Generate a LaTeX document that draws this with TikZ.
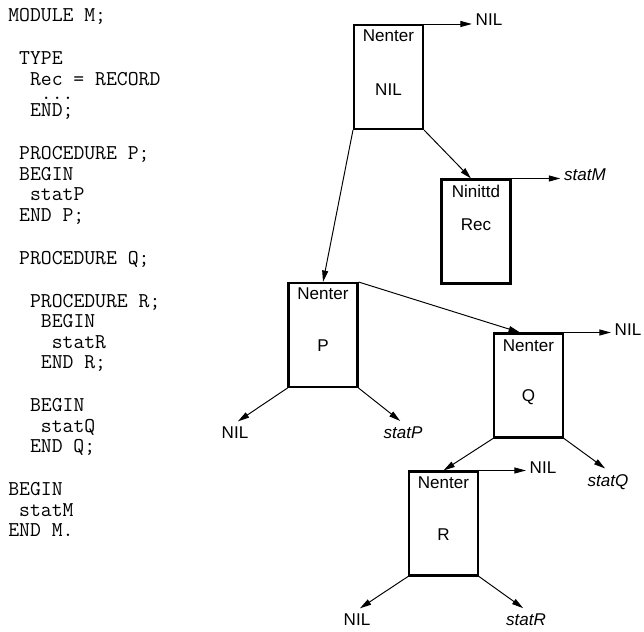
\documentclass[tikz,border=0pt]{standalone}
\usepackage{fontspec}
\newfontfamily\diagfont{Liberation Sans}
\usetikzlibrary{arrows.meta}

\begin{document}
\begin{tikzpicture}[
  scopebox/.style={draw, line width=1.15pt, minimum width=1.38cm, minimum height=2.08cm, inner sep=0pt},
  tag/.style={font=\diagfont\fontsize{9.7}{11.6}\selectfont, inner sep=0pt},
  endtag/.style={font=\diagfont\fontsize{9.7}{11.6}\selectfont, inner sep=2pt},
  stattag/.style={endtag, font=\diagfont\itshape\fontsize{9.7}{11.6}\selectfont},
  link/.style={line width=0.55pt, -{Triangle[length=6.5pt,width=3.4pt]}},
  diag/.style={link, shorten >=2pt}]
  \useasboundingbox (0,0) rectangle (12.88,-12.62);
  % source text
  \node[font=\fontsize{12}{11.67}\selectfont\ttfamily, align=left, anchor=north west, inner sep=0pt] (src) at (0.16,-0.17) {MODULE M;\\[12.8pt]
\ TYPE\\
\ \ Rec = RECORD\\[-3.9pt]
\ \ \ ...\\[-1.8pt]
\ \ END;\\[12.8pt]
\ PROCEDURE P;\\
\ BEGIN\\
\ \ statP\\
\ END P;\\[12.8pt]
\ PROCEDURE Q;\\[12.8pt]
\ \ PROCEDURE R;\\
\ \ \ BEGIN\\
\ \ \ \ statR\\
\ \ \ END R;\\[12.8pt]
\ \ BEGIN\\
\ \ \ statQ\\
\ \ END Q;\\[12.8pt]
BEGIN\\
\ statM\\
END M.};
  % M
  \node[scopebox] (mbox) at (7.77,-1.54) {};
  \node[tag] (mkind) at (7.77,-0.72) {Nenter};
  \node[tag] (mname) at (7.77,-1.80) {NIL};
  \node[endtag] (mnext) at (9.78,-0.40) {NIL};
  % Rec
  \node[scopebox] (recbox) at (9.52,-4.63) {};
  \node[tag] (reckind) at (9.52,-3.82) {Ninittd};
  \node[tag] (recname) at (9.52,-4.50) {Rec};
  \node[stattag] (recnext) at (11.70,-3.50) {statM};
  % P
  \node[scopebox] (pbox) at (6.46,-6.70) {};
  \node[tag] (pkind) at (6.46,-5.88) {Nenter};
  \node[tag] (pname) at (6.46,-6.92) {P};
  \node[endtag] (pdown) at (4.70,-8.66) {NIL};
  \node[stattag] (pstat) at (8.06,-8.66) {statP};
  % Q
  \node[scopebox] (qbox) at (10.57,-7.71) {};
  \node[tag] (qkind) at (10.57,-6.92) {Nenter};
  \node[tag] (qname) at (10.57,-7.94) {Q};
  \node[endtag] (qnext) at (12.56,-6.60) {NIL};
  \node[stattag] (qstat) at (12.16,-9.64) {statQ};
  % R
  \node[scopebox] (rbox) at (8.87,-10.47) {};
  \node[tag] (rkind) at (8.87,-9.66) {Nenter};
  \node[tag] (rname) at (8.87,-10.70) {R};
  \node[endtag] (rnext) at (10.86,-9.36) {NIL};
  \node[endtag] (rdown) at (7.14,-12.40) {NIL};
  \node[stattag] (rstat) at (10.52,-12.40) {statR};
  % links
  \draw[link] (mbox.north east) -- (mbox.north east -| mnext.west);
  \draw[link] (mbox.south west) -- (pbox.north);
  \draw[link] (mbox.south east) -- ([xshift=-0.1cm]recbox.north);
  \draw[link] (recbox.north east) -- (recbox.north east -| recnext.west);
  \draw[link] (pbox.north east) -- ([xshift=-0.17cm]qbox.north);
  \draw[diag] (pbox.south west) -- (pdown.north);
  \draw[diag] (pbox.south east) -- (pstat.north);
  \draw[link] (qbox.north east) -- (qbox.north east -| qnext.west);
  \draw[link] (qbox.south west) -- (rbox.north);
  \draw[diag] (qbox.south east) -- (qstat.north);
  \draw[link] (rbox.north east) -- (rbox.north east -| rnext.west);
  \draw[diag] (rbox.south west) -- (rdown.north);
  \draw[diag] (rbox.south east) -- (rstat.north);
\end{tikzpicture}
\end{document}
